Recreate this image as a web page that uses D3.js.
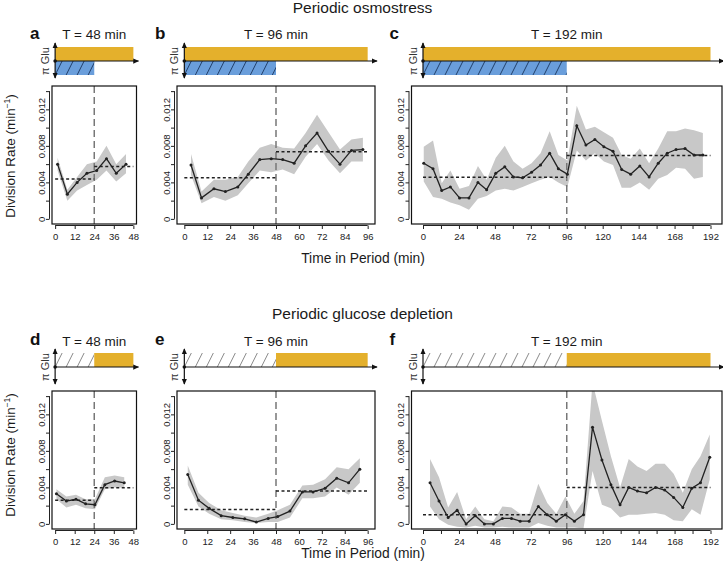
<!DOCTYPE html>
<html lang="en">
<head>
<meta charset="UTF-8">
<title>Division rate in periodic environments</title>
<script src="https://d3js.org/d3.v7.min.js"></script>
<style>
  body { margin: 0; background: #fff; }
  svg { display: block; font-family: "Liberation Sans", Arial, Helvetica, sans-serif; }
  .box { fill: none; stroke: #111; stroke-width: 1.2px; }
  .band { fill: #c8c8c8; stroke: none; }
  .rate { fill: none; stroke: #222; stroke-width: 1.3px; }
  .dot { fill: #222; }
  .mean { stroke: #222; stroke-width: 1.5px; stroke-dasharray: 3,2.5; }
  .half { stroke: #777; stroke-width: 1.5px; stroke-dasharray: 7,4; }
  .axis line, .axisline { stroke: #222; stroke-width: 1px; }
  .axis text { font-size: 9.5px; fill: #222; }
  .schem { stroke: #111; stroke-width: 1.2px; }
</style>
</head>
<body>
<script>
// periods (min) and labels
const periods = [48, 96, 192];
const rowTitles = ["Periodic osmostress", "Periodic glucose depletion"];
const letters = ["a", "b", "c", "d", "e", "f"];

// a: osmostress, T = 48
const aTime = [1.5, 7.5, 13.5, 19.5, 25.5, 31.5, 37.5, 43.5];
const aRate = [0.0060, 0.0027, 0.0040, 0.0050, 0.0053, 0.0066, 0.0050, 0.0060];
const aLow  = [0.0053, 0.0020, 0.0031, 0.0037, 0.0043, 0.0053, 0.0041, 0.0050];
const aHigh = [0.0067, 0.0032, 0.0046, 0.0060, 0.0063, 0.0080, 0.0060, 0.0071];
const aMean = [0.00436, 0.00575];

// b: osmostress, T = 96
const bTime = [3.5, 9, 15.5, 21.5, 28, 33.5, 39.5, 45.5, 51.5, 57.5, 63.5, 69.5, 75.5, 81.5, 87.5, 93.5];
const bRate = [0.0059, 0.0023, 0.0033, 0.0030, 0.0035, 0.0049, 0.0065, 0.0066, 0.0065, 0.0061, 0.0080, 0.0094, 0.0074, 0.0060, 0.0075, 0.0076];
const bLow  = [0.0048, 0.0017, 0.0024, 0.0020, 0.0026, 0.0039, 0.0053, 0.0051, 0.0054, 0.0049, 0.0068, 0.0082, 0.0064, 0.0050, 0.0063, 0.0063];
const bHigh = [0.0071, 0.0030, 0.0043, 0.0043, 0.0046, 0.0063, 0.0078, 0.0082, 0.0078, 0.0077, 0.0094, 0.0114, 0.0095, 0.0076, 0.0087, 0.0089];
const bMean = [0.00451, 0.00735];

// c: osmostress, T = 192
const cTime = [0.5, 6.7, 12.5, 18.3, 24.4, 30.7, 36.7, 42.5, 48.6, 54.6, 60.4, 66.5, 72.5, 78.5, 84.6, 90.4,
               96.4, 102.7, 108.8, 114.8, 120.8, 126.9, 132.7, 138.7, 144.8, 151, 157.1, 163.1, 169, 175, 181, 186.9];
const cRate = [0.0061, 0.0055, 0.0031, 0.0035, 0.0023, 0.0023, 0.0040, 0.0032, 0.0050, 0.0057, 0.0046, 0.0045, 0.0051, 0.0059, 0.0072, 0.0055,
               0.0049, 0.0102, 0.0081, 0.0087, 0.0079, 0.0074, 0.0054, 0.0049, 0.0058, 0.0046, 0.0061, 0.0072, 0.0076, 0.0077, 0.0070, 0.0070];
const cLow  = [0.0041, 0.0024, 0.0022, 0.0018, 0.0015, 0.0010, 0.0022, 0.0025, 0.0031, 0.0033, 0.0031, 0.0035, 0.0039, 0.0043, 0.0046, 0.0040,
               0.0035, 0.0075, 0.0064, 0.0072, 0.0063, 0.0059, 0.0034, 0.0034, 0.0040, 0.0032, 0.0044, 0.0048, 0.0056, 0.0055, 0.0044, 0.0046];
const cHigh = [0.0079, 0.0086, 0.0039, 0.0053, 0.0033, 0.0036, 0.0058, 0.0043, 0.0067, 0.0080, 0.0063, 0.0055, 0.0061, 0.0072, 0.0096, 0.0070,
               0.0064, 0.0124, 0.0098, 0.0101, 0.0095, 0.0089, 0.0070, 0.0066, 0.0077, 0.0061, 0.0077, 0.0096, 0.0096, 0.0099, 0.0097, 0.0094];
const cMean = [0.00455, 0.00695];

// d: glucose depletion, T = 48
const dTime = [0.8, 6.9, 12.8, 18.7, 24.4, 30.5, 36.5, 42.4];
const dRate = [0.0033, 0.0025, 0.0027, 0.0022, 0.0021, 0.0043, 0.0047, 0.0045];
const dLow  = [0.0027, 0.0018, 0.0021, 0.0017, 0.0016, 0.0038, 0.0040, 0.0040];
const dHigh = [0.0038, 0.0030, 0.0032, 0.0027, 0.0027, 0.0051, 0.0053, 0.0051];
const dMean = [0.0026, 0.00395];

// e: glucose depletion, T = 96
const eTime = [1.8, 7.4, 13, 19.3, 25.4, 31.6, 37.7, 43.9, 48.9, 55.3, 61.8, 67.4, 73.7, 79.8, 86, 91.9];
const eRate = [0.0054, 0.0026, 0.0017, 0.0009, 0.0007, 0.00055, 0.0002, 0.0006, 0.0008, 0.0014, 0.0035, 0.0035, 0.0039, 0.0050, 0.0045, 0.0060];
const eLow  = [0.0043, 0.0019, 0.0011, 0.0005, 0.0004, 0.0002, 0.0001, 0.0002, 0.0002, 0.0007, 0.0028, 0.0028, 0.0030, 0.0040, 0.0032, 0.0045];
const eHigh = [0.0064, 0.0034, 0.0023, 0.0015, 0.0012, 0.0009, 0.0007, 0.0011, 0.0015, 0.0021, 0.0042, 0.0043, 0.0049, 0.0062, 0.0060, 0.0072];
const eMean = [0.00157, 0.00359];

// f: glucose depletion, T = 192
const fTime = [4.7, 10.7, 16.8, 22.8, 28.8, 34.9, 41, 47, 53, 59.1, 64.9, 70.9, 77, 83, 89, 95.1,
               101.1, 107.2, 113.2, 119.5, 125.5, 131.6, 137.4, 143.2, 149.3, 155.3, 161.4, 167.4, 173.5, 179.5, 185.3, 191.5];
const fRate = [0.0045, 0.0025, 0.0007, 0.0015, 0, 0.0009, 0, 0, 0.0006, 0.0006, 0.0003, 0.0003, 0.0019, 0.0010, 0.0003, 0.0010,
               0.0003, 0.0010, 0.0106, 0.0070, 0.0043, 0.0021, 0.0040, 0.0036, 0.0034, 0.0040, 0.0037, 0.0029, 0.0018, 0.0039, 0.0045, 0.0073];
const fLow  = [0.0019, 0.0005, -0.0001, -0.0003, -0.0004, -0.0002, -0.0004, -0.0004, -0.0003, -0.0004, -0.0004, -0.0004, 0.0001, -0.0002, -0.0004, -0.0004,
               -0.0004, -0.0005, 0.0058, 0.0021, 0.0017, 0.0007, 0.0010, 0.0010, 0.0011, 0.0012, 0.0010, 0.0004, 0.0003, 0.0016, 0.0010, 0.0049];
const fHigh = [0.0071, 0.0051, 0.0018, 0.0035, 0.0005, 0.0019, 0.0005, 0.0003, 0.0019, 0.0018, 0.0011, 0.0011, 0.0044, 0.0023, 0.0011, 0.0030,
               0.0011, 0.0025, 0.0155, 0.0113, 0.0074, 0.0040, 0.0071, 0.0063, 0.0058, 0.0066, 0.0066, 0.0055, 0.0034, 0.0060, 0.0074, 0.0098];
const fMean = [0.00099, 0.0040];

const yTicks = [0, 0.002, 0.004, 0.006, 0.008, 0.010, 0.012, 0.014];

const panels = [
  { time: aTime, rate: aRate, lo: aLow, hi: aHigh, mean: aMean },
  { time: bTime, rate: bRate, lo: bLow, hi: bHigh, mean: bMean },
  { time: cTime, rate: cRate, lo: cLow, hi: cHigh, mean: cMean },
  { time: dTime, rate: dRate, lo: dLow, hi: dHigh, mean: dMean },
  { time: eTime, rate: eRate, lo: eLow, hi: eHigh, mean: eMean },
  { time: fTime, rate: fRate, lo: fLow, hi: fHigh, mean: fMean }
];

// layout
const W = 723, H = 571;
const colLeft = [52, 177, 411.5], colRight = [136.5, 375, 722];
const rowTop = [86, 391], boxH = 138;
const schemY = [61, 367];
const gold = "#e4b02c", blue = "#6a9edb";

const svg = d3.select("body").append("svg")
  .attr("width", W).attr("height", H);

const defs = svg.append("defs");
defs.append("marker").attr("id", "arr")
  .attr("viewBox", "0 0 8 8").attr("refX", 7).attr("refY", 4)
  .attr("markerWidth", 5).attr("markerHeight", 5).attr("orient", "auto-start-reverse")
  .append("path").attr("d", "M0,0.5 L8,4 L0,7.5 Z").attr("fill", "#111");

// row titles and axis titles
rowTitles.forEach((t, r) => {
  svg.append("text").attr("x", 362.5).attr("y", [13, 318.5][r])
    .attr("text-anchor", "middle").style("font-size", "15.5px").attr("fill", "#1a1a1a").text(t);
  svg.append("text").attr("x", 363).attr("y", [263, 558][r])
    .attr("text-anchor", "middle").style("font-size", "13.8px").attr("fill", "#1a1a1a").text("Time in Period (min)");
  const yl = svg.append("text")
    .attr("transform", `translate(10,${[156, 455][r]}) rotate(-90)`)
    .attr("y", 5).attr("text-anchor", "middle").style("font-size", "13.5px").attr("fill", "#1a1a1a");
  yl.append("tspan").text("Division Rate (min");
  yl.append("tspan").attr("dy", -5).style("font-size", "8.5px").text("−1");
  yl.append("tspan").attr("dy", 5).text(")");
});

function hatch(g, x0, x1, y0, y1, color, id) {
  defs.append("clipPath").attr("id", id).append("rect")
    .attr("x", x0).attr("y", y0).attr("width", x1 - x0).attr("height", y1 - y0);
  const step = 11, lean = 7;
  g.append("g").attr("clip-path", `url(#${id})`)
    .selectAll("line").data(d3.range(x0 - step, x1 + step, step)).join("line")
    .attr("x1", d => d).attr("y1", y1).attr("x2", d => d + lean).attr("y2", y0)
    .attr("stroke", color).attr("stroke-width", 1);
}

panels.forEach((p, i) => {
  const row = Math.floor(i / 3), col = i % 3;
  const T = periods[col];
  const left = colLeft[col], right = colRight[col];
  const top = rowTop[row], bottom = top + boxH;
  const g = svg.append("g");

  const x = d3.scaleLinear().domain([-0.04 * T, 1.04 * T]).range([left, right]);
  const y = d3.scaleLinear().domain([-0.00056, 0.01456]).range([bottom, top]);

  // letter and period title
  g.append("text").attr("x", left - 22).attr("y", [38.5, 344.5][row])
    .style("font-size", "17px").style("font-weight", "bold").attr("fill", "#111").text(letters[i]);
  g.append("text").attr("x", (left + right) / 2).attr("y", [39, 346][row])
    .attr("text-anchor", "middle").style("font-size", "13.5px").attr("fill", "#1a1a1a")
    .text(`T = ${T} min`);

  // schematic of the periodic input
  const sy0 = schemY[row], bh = 14;
  if (row === 0) {
    g.append("rect").attr("x", x(0)).attr("y", sy0 - bh).attr("width", x(T) - x(0)).attr("height", bh).attr("fill", gold);
    g.append("rect").attr("x", x(0)).attr("y", sy0).attr("width", x(T / 2) - x(0)).attr("height", bh).attr("fill", blue);
    hatch(g, x(0), x(T / 2), sy0, sy0 + bh, "#23406b", "h" + i);
  } else {
    hatch(g, x(0), x(T / 2), sy0 - bh, sy0, "#8a8a8a", "h" + i);
    g.append("rect").attr("x", x(T / 2)).attr("y", sy0 - bh).attr("width", x(T) - x(T / 2)).attr("height", bh).attr("fill", gold);
  }
  g.append("line").attr("class", "schem")
    .attr("x1", x(0)).attr("x2", right + 2).attr("y1", sy0).attr("y2", sy0)
    .attr("marker-end", "url(#arr)");
  g.append("line").attr("class", "schem")
    .attr("x1", x(0)).attr("x2", x(0)).attr("y1", sy0 + 17).attr("y2", sy0 - 18)
    .attr("marker-start", "url(#arr)").attr("marker-end", "url(#arr)");
  g.append("circle").attr("cx", x(0)).attr("cy", sy0).attr("r", 1.8).attr("fill", "#111");
  g.append("text")
    .attr("transform", `translate(${x(0) - 6},${sy0}) rotate(-90)`)
    .attr("text-anchor", "middle").style("font-size", "11px").attr("fill", "#333").text("π Glu");

  // data
  const pts = p.time.map((t, k) => ({ t, v: p.rate[k], lo: p.lo[k], hi: p.hi[k] }));
  defs.append("clipPath").attr("id", "c" + i).append("rect")
    .attr("x", left).attr("y", top).attr("width", right - left).attr("height", boxH);
  const plot = g.append("g").attr("clip-path", `url(#c${i})`);

  plot.append("path").attr("class", "band").datum(pts)
    .attr("d", d3.area().x(d => x(d.t)).y0(d => y(d.lo)).y1(d => y(d.hi)));

  plot.append("line").attr("class", "half")
    .attr("x1", x(T / 2)).attr("x2", x(T / 2)).attr("y1", top).attr("y2", bottom);

  plot.selectAll(".mean").data([[0, T / 2, p.mean[0]], [T / 2, T, p.mean[1]]]).join("line")
    .attr("class", "mean")
    .attr("x1", d => x(d[0])).attr("x2", d => x(d[1]))
    .attr("y1", d => y(d[2])).attr("y2", d => y(d[2]));

  plot.append("path").attr("class", "rate").datum(pts)
    .attr("d", d3.line().x(d => x(d.t)).y(d => y(d.v)));
  plot.selectAll(".dot").data(pts).join("circle").attr("class", "dot")
    .attr("cx", d => x(d.t)).attr("cy", d => y(d.v)).attr("r", 1.5);

  g.append("rect").attr("class", "box")
    .attr("x", left).attr("y", top).attr("width", right - left).attr("height", boxH);

  // x axis
  const xTicks = d3.range(0, T + 1, 12);
  const xa = g.append("g").attr("class", "axis")
    .attr("transform", `translate(0,${bottom + 1.5})`)
    .call(d3.axisBottom(x).tickValues(xTicks).tickSize(3.5).tickPadding(4.5)
      .tickFormat(d => (T > 100 && d % 24) ? "" : d));
  xa.select(".domain").remove();
  xa.append("line").attr("class", "axisline").attr("x1", x(0)).attr("x2", x(T));

  // y axis
  const ya = g.append("g").attr("class", "axis")
    .attr("transform", `translate(${left - 2.5},0)`)
    .call(d3.axisLeft(y).tickValues(yTicks).tickSize(3.5)
      .tickFormat(d => Math.round(d * 1000) % 4 ? "" : (d === 0 ? "0" : d.toFixed(3))));
  ya.select(".domain").remove();
  ya.append("line").attr("class", "axisline").attr("y1", y(0)).attr("y2", y(0.014));
  ya.selectAll("text")
    .attr("transform", "rotate(-90)").attr("x", 0).attr("y", -4.6).attr("dy", 0)
    .attr("text-anchor", "middle");
});
</script>
</body>
</html>
